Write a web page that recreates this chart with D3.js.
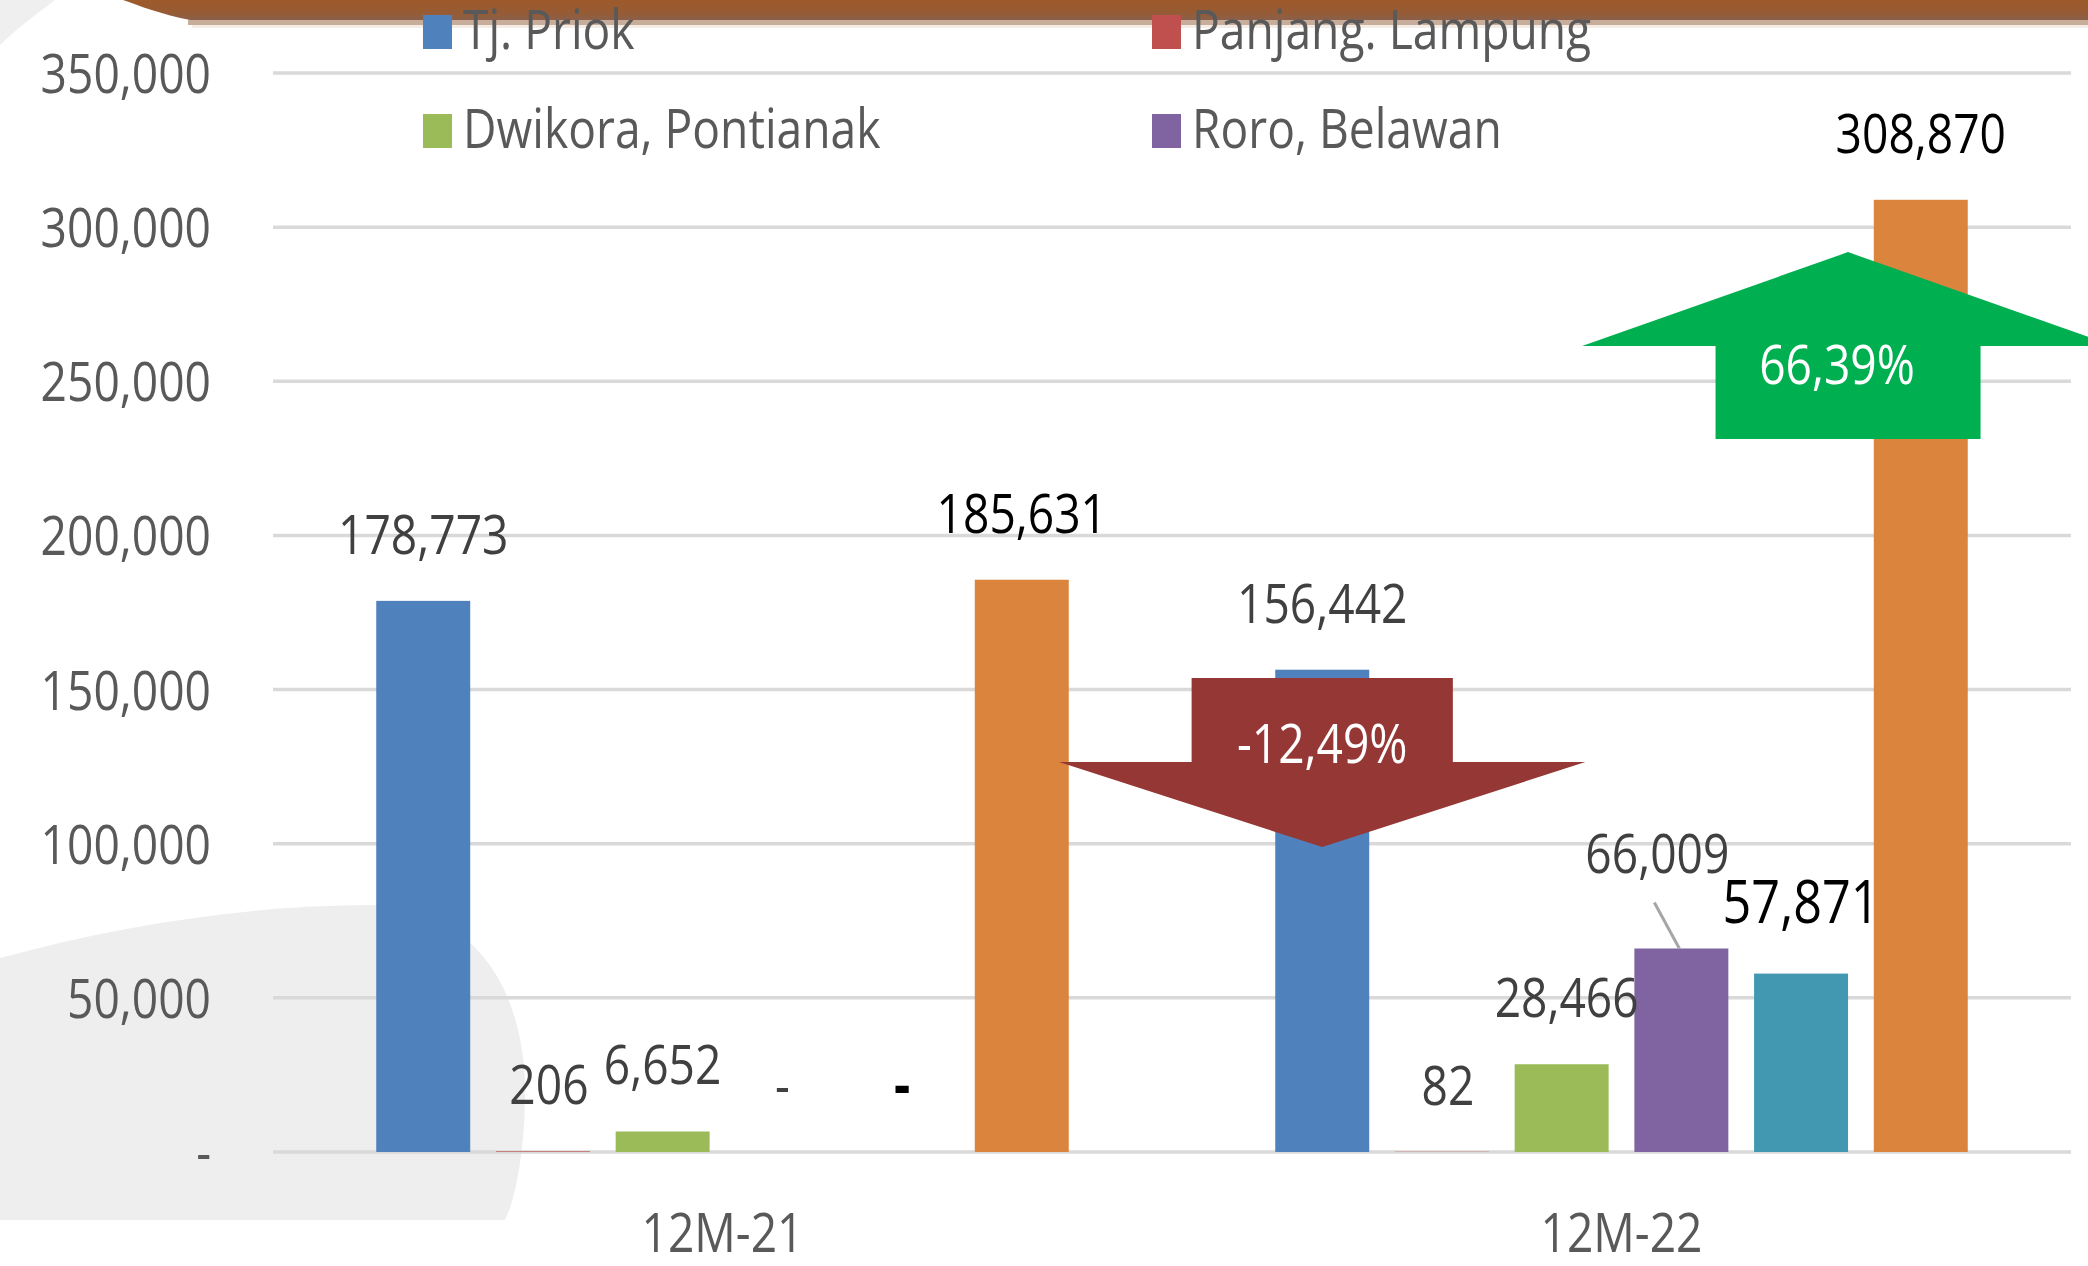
<!DOCTYPE html>
<html>
<head>
<meta charset="UTF-8">
<script src="https://d3js.org/d3.v7.min.js"></script>
<style>
body { margin: 0; background: #fff; }
svg text { font-family: "Open Sans", sans-serif; }
</style>
</head>
<body>
<div id="chart"></div>
<script>
// data
const categories = ["12M-21", "12M-22"];
const seriesNames = ["Tj. Priok", "Panjang. Lampung", "Dwikora, Pontianak", "Roro, Belawan", "Lainnya", "Total"];
const values2021 = [178773, 206, 6652, 0, 0, 185631];
const values2022 = [156442, 82, 28466, 66009, 57871, 308870];
const legendNames = ["Tj. Priok", "Panjang. Lampung", "Dwikora, Pontianak", "Roro, Belawan"];
const yTicks = [0, 50000, 100000, 150000, 200000, 250000, 300000, 350000];
const changeLabels = ["-12,49%", "66,39%"];

const W = 2088, H = 1266;
const colors = ["#4F81BD", "#C0504D", "#9BBB59", "#8064A2", "#4298B0", "#DB843D"];
const rows = [values2021, values2022];

const svg = d3.select("#chart").append("svg").attr("width", W).attr("height", H);

const y = d3.scaleLinear().domain([0, 350000]).range([1152, 73]);
const x0 = d3.scaleBand().domain(categories).range([273, 2071]);
const x1 = d3.scaleBand().domain(seriesNames).range([0, x0.bandwidth()])
  .paddingInner(0.215).paddingOuter(0.8625);
const color = d3.scaleOrdinal().domain(seriesNames).range(colors);
const fmt = v => v === 0 ? "-" : d3.format(",")(v);
const SX = 0.84; // narrow the glyphs a bit, calibri-like

function txt(g, x, yy, s, size, fill, anchor) {
  return g.append("text")
    .attr("transform", `translate(${x},${yy}) scale(${SX},1)`)
    .attr("text-anchor", anchor || "middle")
    .attr("font-size", size)
    .attr("fill", fill)
    .text(s);
}

// slide decorations
svg.append("path").attr("d", "M0,958 C120,925 250,905 373,905 C470,910 520,980 525,1080 C526,1150 515,1200 505,1220 L0,1220 Z")
  .attr("fill", "#EEEEEE");
svg.append("path").attr("d", "M0,0 L55,0 C35,15 15,30 0,45 Z").attr("fill", "#EFEFEF");

// gridlines
svg.append("g").selectAll("line").data(yTicks).join("line")
  .attr("x1", 273).attr("x2", 2071)
  .attr("y1", d => y(d)).attr("y2", d => y(d))
  .attr("stroke", "#D9D9D9").attr("stroke-width", 3.5);

// y labels
const yg = svg.append("g");
yTicks.forEach(t => txt(yg, 211, y(t) + 20, fmt(t), 55, "#595959", "end"));

// x labels
const xg = svg.append("g");
categories.forEach(c => txt(xg, x0(c) + x0.bandwidth() / 2, 1252, c, 55, "#595959"));

// bars
const data = [];
categories.forEach((c, i) => seriesNames.forEach((s, j) => data.push({ cat: c, s: s, j: j, v: rows[i][j] })));
const bw = x1.bandwidth();
const cx = d => x0(d.cat) + x1(d.s) + bw / 2;

svg.append("g").selectAll("rect").data(data.filter(d => d.v > 0)).join("rect")
  .attr("x", d => x0(d.cat) + x1(d.s))
  .attr("y", d => y(d.v))
  .attr("width", bw)
  .attr("height", d => y(0) - y(d.v))
  .attr("fill", d => color(d.s));

// data labels
const lg = svg.append("g");
data.forEach(d => {
  let lx = cx(d), ly = y(d.v) - 47;
  const dark = d.j >= 4;
  const size = d.j === 4 ? 60 : 55;
  if (d.j === 4 && d.v > 0) ly -= 4;
  if (d.cat === "12M-22" && d.j === 3) {
    // label moved up-left with a leader line
    lx -= 24; ly -= 29;
    lg.append("line")
      .attr("x1", lx - 3).attr("y1", ly + 30)
      .attr("x2", cx(d) - 2).attr("y2", y(d.v))
      .attr("stroke", "#A6A6A6").attr("stroke-width", 3);
  }
  if (d.j === 2 && d.cat === "12M-22") lx += 5;
  if (d.j === 1) lx += 6;
  const t = txt(lg, lx, ly, fmt(d.v), size, dark ? "#000" : "#404040");
  if (d.v === 0 && dark) t.attr("font-weight", "bold");
});

// change arrows
function arrowPath(c, yBody, yBase, yTip, headHalf, bodyHalf) {
  return d3.line()([
    [c - bodyHalf, yBody], [c + bodyHalf, yBody], [c + bodyHalf, yBase],
    [c + headHalf, yBase], [c, yTip], [c - headHalf, yBase], [c - bodyHalf, yBase]
  ]) + "Z";
}
const ag = svg.append("g");
const downX = x0("12M-22") + x1(seriesNames[0]) + bw / 2;
ag.append("path").attr("d", arrowPath(downX, y(153750), y(126500), y(98900), 2.8 * bw, 1.39 * bw))
  .attr("fill", "#953735");
txt(ag, downX, y(126500) + 1, changeLabels[0], 55, "#fff");

const upX = x0("12M-22") + x1(seriesNames[4]) + bw;
ag.append("path").attr("d", arrowPath(upX, y(231300), y(261450), y(291900), 2.83 * bw, 1.41 * bw))
  .attr("fill", "#00B050");
txt(ag, upX - 11, y(261450) + 38, changeLabels[1], 55, "#fff");

// top band
const defs = svg.append("defs");
const grad = defs.append("linearGradient").attr("id", "band").attr("x1", 0).attr("x2", 0).attr("y1", 0).attr("y2", 1);
grad.append("stop").attr("offset", "0%").attr("stop-color", "#9E5A2A");
grad.append("stop").attr("offset", "60%").attr("stop-color", "#975B33");
grad.append("stop").attr("offset", "100%").attr("stop-color", "#8A5F4A");
svg.append("path").attr("d", "M123,0 L2088,0 L2088,20 L190,20 C160,14 140,6 123,0 Z").attr("fill", "url(#band)");
svg.append("rect").attr("x", 188).attr("y", 20).attr("width", W - 188).attr("height", 5).attr("fill", "#C7AD9A");
svg.append("rect").attr("x", 192).attr("y", 25).attr("width", W - 192).attr("height", 3).attr("fill", "#F4EDE7");

// legend
const leg = svg.append("g");
legendNames.forEach((n, i) => {
  const lx = i % 2 === 0 ? 423 : 1152;
  const ly = i < 2 ? 49 : 148;
  leg.append("rect").attr("x", lx).attr("y", ly - 34).attr("width", 29).attr("height", 34)
    .attr("fill", color(n));
  txt(leg, lx + 40, ly, n, 55, "#595959", "start");
});
</script>
</body>
</html>
